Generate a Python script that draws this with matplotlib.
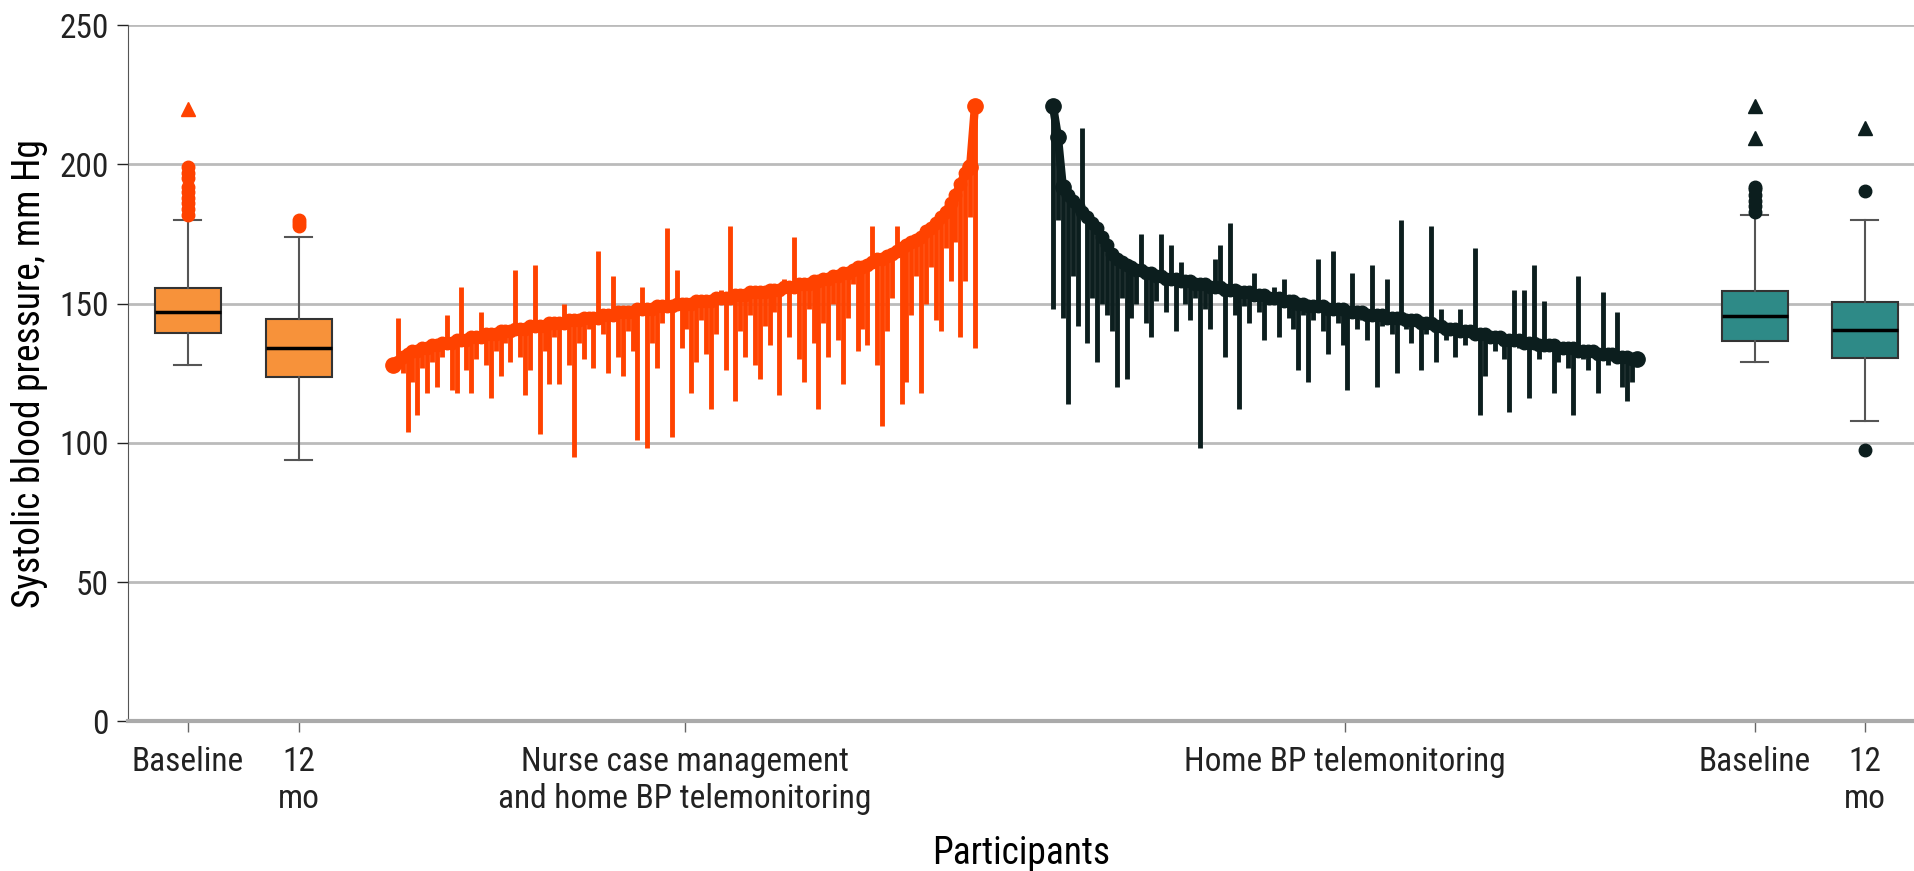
import matplotlib.pyplot as plt
import numpy as np
from matplotlib import font_manager

# --- data ---------------------------------------------------------------
# nurse case management + home BP telemonitoring, sorted by baseline
nurse_base = [128, 129, 131, 132, 133, 133, 134, 134, 135, 135,
              136, 136, 136, 137, 137, 137, 138, 138, 138, 139,
              139, 139, 140, 140, 140, 141, 141, 141, 142, 142,
              142, 142, 143, 143, 143, 143, 144, 144, 144, 145,
              145, 145, 145, 146, 146, 146, 147, 147, 147, 147,
              148, 148, 148, 148, 149, 149, 149, 149, 150, 150,
              150, 150, 151, 151, 151, 151, 152, 152, 152, 152,
              153, 153, 153, 154, 154, 154, 154, 155, 155, 155,
              156, 156, 156, 157, 157, 157, 158, 158, 159, 159,
              160, 160, 161, 161, 162, 163, 163, 164, 165, 166,
              166, 167, 168, 169, 170, 171, 172, 173, 174, 176,
              177, 179, 181, 183, 186, 189, 193, 197, 199, 221]
nurse_12mo = [126, 145, 125, 104, 122, 110, 127, 118, 129, 120,
              131, 146, 119, 118, 156, 126, 118, 130, 147, 128,
              116, 133, 124, 136, 129, 162, 131, 117, 126, 164,
              103, 133, 121, 138, 121, 150, 128, 95, 136, 130,
              141, 127, 169, 139, 125, 160, 131, 124, 140, 133,
              101, 156, 98, 136, 127, 143, 177, 102, 162, 134,
              141, 118, 129, 144, 132, 112, 139, 155, 126, 178,
              115, 140, 131, 146, 128, 123, 142, 135, 147, 117,
              159, 138, 174, 130, 122, 148, 136, 112, 143, 131,
              150, 137, 121, 145, 157, 133, 141, 135, 178, 128,
              106, 140, 152, 178, 114, 122, 146, 160, 118, 150,
              163, 144, 140, 170, 158, 172, 138, 158, 181, 134]

# home BP telemonitoring only, sorted by baseline (descending)
home_base = [221, 210, 192, 189, 187, 185, 183, 181, 179, 177,
             174, 171, 168, 166, 165, 164, 163, 162, 162, 161,
             161, 160, 160, 159, 159, 159, 158, 158, 158, 157,
             157, 157, 156, 156, 156, 155, 155, 155, 154, 154,
             154, 153, 153, 153, 152, 152, 152, 151, 151, 151,
             150, 150, 149, 149, 149, 149, 148, 148, 148, 148,
             147, 147, 147, 147, 146, 146, 146, 146, 145, 145,
             145, 145, 144, 144, 144, 143, 143, 143, 142, 142,
             141, 141, 141, 140, 140, 140, 139, 139, 139, 138,
             138, 138, 137, 137, 137, 137, 136, 136, 136, 135,
             135, 135, 135, 134, 134, 134, 134, 133, 133, 133,
             133, 132, 132, 132, 132, 131, 131, 131, 130, 130]
home_12mo = [148, 180, 145, 114, 160, 142, 213, 136, 152, 129,
             150, 146, 140, 120, 152, 123, 145, 150, 175, 143,
             138, 151, 175, 147, 171, 140, 165, 150, 144, 152,
             98, 148, 141, 166, 171, 131, 179, 146, 112, 149,
             143, 161, 147, 137, 150, 156, 138, 159, 145, 141,
             126, 146, 122, 144, 166, 140, 132, 169, 143, 135,
             119, 161, 141, 144, 137, 164, 120, 142, 159, 139,
             125, 180, 141, 136, 142, 126, 139, 178, 129, 148,
             137, 140, 131, 148, 135, 138, 170, 110, 124, 136,
             133, 137, 130, 111, 155, 134, 155, 116, 164, 130,
             151, 133, 118, 129, 132, 127, 110, 160, 130, 126,
             131, 118, 154, 128, 130, 147, 120, 115, 122, 128]

# box plot summaries
box_labels = ['nurse_base', 'nurse_12mo', 'home_base', 'home_12mo']
box_whislo = [128, 94, 129, 108]
box_q1 = [139.5, 123.5, 136.5, 130.5]
box_med = [147, 134, 145.5, 140.5]
box_q3 = [155.5, 144.5, 154.5, 150.5]
box_whishi = [180, 174, 182, 180]
# outliers: circles (mild) and triangles (extreme)
out_circle = [[182, 184, 186, 188, 190, 192, 195, 197, 199],
              [178, 179, 180],
              [183, 185, 187, 189, 191, 192],
              [190.5, 97.5]]
out_tri = [[220], [], [221, 209.5], [213]]

tick_labels = ['Baseline', '12\nmo', 'Nurse case management\nand home BP telemonitoring',
               'Home BP telemonitoring', 'Baseline', '12\nmo']

# --- style --------------------------------------------------------------
names = {f.name for f in font_manager.fontManager.ttflist}
fam = 'DejaVu Sans'
for cand in ['Liberation Sans Narrow', 'Roboto Condensed', 'Open Sans Condensed', 'DejaVu Sans']:
    if cand in names:
        fam = cand
        break
plt.rcParams['font.family'] = [fam, 'DejaVu Sans']
plt.rcParams['font.stretch'] = 'condensed'

orange_line = '#FF4200'
dark_line = '#0C1E1E'
orange_box = '#F7923A'
teal_box = '#2E8A87'

fig = plt.figure(figsize=(19.15, 8.71), dpi=100)
ax = fig.add_axes([0.0668, 0.172, 0.9332, 0.799])

# layout positions (pixel-like x units)
box_pos = [60, 171, 1627, 1737]
nurse_x = np.linspace(265, 847, len(nurse_base))
home_x = np.linspace(925, 1509, len(home_base))
tick_pos = [60, 171, 557, 1217, 1627, 1737]

# waterfall lines
ax.vlines(nurse_x, nurse_base, nurse_12mo, color=orange_line, lw=3.5, zorder=3)
ax.plot(nurse_x, nurse_base, '-o', color=orange_line, ms=9, lw=6, zorder=4)
ax.plot(nurse_x[[0, -1, -2]], np.array(nurse_base)[[0, -1, -2]], 'o', color=orange_line, ms=11, zorder=4)
ax.vlines(home_x, home_base, home_12mo, color=dark_line, lw=3.5, zorder=3)
ax.plot(home_x, home_base, '-o', color=dark_line, ms=9, lw=6, zorder=4)
ax.plot(home_x[[0, 1, 2, -1]], np.array(home_base)[[0, 1, 2, -1]], 'o', color=dark_line, ms=11, zorder=4)

# boxes
stats = []
for i in range(4):
    stats.append({'label': box_labels[i], 'whislo': box_whislo[i], 'q1': box_q1[i],
                  'med': box_med[i], 'q3': box_q3[i], 'whishi': box_whishi[i], 'fliers': []})
fills = [orange_box, orange_box, teal_box, teal_box]
pt_cols = [orange_line, orange_line, dark_line, dark_line]
bp = ax.bxp(stats, positions=box_pos, widths=66, capwidths=27, patch_artist=True,
            showfliers=False, manage_ticks=False,
            boxprops=dict(edgecolor='#333333', lw=1.5),
            whiskerprops=dict(color='#555555', lw=1.5),
            capprops=dict(color='#555555', lw=1.5),
            medianprops=dict(color='black', lw=2.5))
for patch, c in zip(bp['boxes'], fills):
    patch.set_facecolor(c)
for i in range(4):
    ax.plot([box_pos[i]] * len(out_circle[i]), out_circle[i], 'o', color=pt_cols[i], ms=9, zorder=4)
    ax.plot([box_pos[i]] * len(out_tri[i]), out_tri[i], '^', color=pt_cols[i], ms=10, zorder=4)

# axes
ax.set_xlim(0, 1787)
ax.set_ylim(0, 250)
ax.set_yticks([0, 50, 100, 150, 200, 250])
ax.grid(axis='y', color='#BBBBBB', lw=2, zorder=0)
ax.set_axisbelow(True)
ax.set_xticks(tick_pos)
ax.set_xticklabels(tick_labels, va='top', linespacing=1.2)
ax.tick_params(axis='both', labelsize=24, colors='#222222', length=8, width=1)
ax.tick_params(axis='x', color='#666666', pad=10)
ax.tick_params(axis='y', pad=6)
for s in ['top', 'right']:
    ax.spines[s].set_visible(False)
ax.spines['left'].set_color('#555555')
ax.spines['bottom'].set_color('#AAAAAA')
ax.spines['bottom'].set_linewidth(3)
ax.set_ylabel('Systolic blood pressure, mm Hg', fontsize=27, labelpad=8)
ax.set_xlabel('Participants', fontsize=27, labelpad=14)

fig.savefig('out.png', dpi=100)
